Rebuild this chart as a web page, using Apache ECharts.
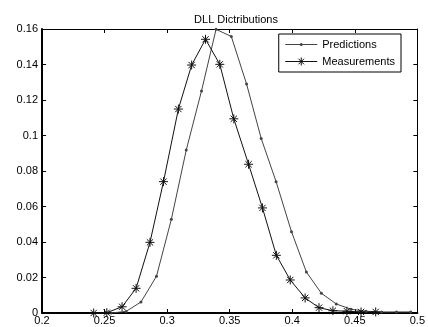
<!DOCTYPE html>
<html>
<head>
<meta charset="utf-8">
<script src="https://cdn.jsdelivr.net/npm/echarts@6/dist/echarts.min.js"></script>
<style>
  html, body { margin: 0; padding: 0; background: #fff; }
  #main { width: 428px; height: 327px; }
</style>
</head>
<body>
<div id="main"></div>
<script>
// values
var predX = [0.2552, 0.2672, 0.2791, 0.2915, 0.3034, 0.3153, 0.3275, 0.3391, 0.3513, 0.3635,
             0.3752, 0.3871, 0.3994, 0.4113, 0.4233, 0.4352, 0.4471, 0.4590, 0.4714, 0.4833, 0.4947];
var predY = [0.0000, 0.0009, 0.0062, 0.0207, 0.0528, 0.0918, 0.1251, 0.1598, 0.1558, 0.1290,
             0.0983, 0.0740, 0.0458, 0.0231, 0.0111, 0.0051, 0.0021, 0.0010, 0.0006, 0.0006, 0.0006];
var measX = [0.2413, 0.2518, 0.2640, 0.2752, 0.2863, 0.2971, 0.3090, 0.3196, 0.3307, 0.3421,
             0.3533, 0.3651, 0.3762, 0.3873, 0.3984, 0.4103, 0.4214, 0.4325, 0.4437, 0.4550, 0.4667];
var measY = [0.0000, 0.0002, 0.0035, 0.0139, 0.0398, 0.0740, 0.1149, 0.1397, 0.1542, 0.1401,
             0.1094, 0.0838, 0.0592, 0.0325, 0.0186, 0.0085, 0.0030, 0.0013, 0.0010, 0.0006, 0.0006];

function pairs(xs, ys) {
    var out = [];
    for (var i = 0; i < xs.length; i++) out.push([xs[i], ys[i]]);
    return out;
}

var font = 'Liberation Sans, Arial, sans-serif';
var star = 'path://M0,-5L0,5M-5,0L5,0M-3.5,-3.5L3.5,3.5M-3.5,3.5L3.5,-3.5';
// legend icons: line with marker, drawn in a 32x8 box
var predIcon = 'path://M0,0L0,0ZM32,8L32,8ZM0,3.5h32v1h-32zM17.5,4A1.5,1.5,0,1,1,14.5,4A1.5,1.5,0,1,1,17.5,4Z';
var measIcon = 'path://M0,4L32,4M16,0L16,8M12,4L20,4M13.2,1.2L18.8,6.8M13.2,6.8L18.8,1.2';

var chart = echarts.init(document.getElementById('main'));
var option = {
    animation: false,
    backgroundColor: '#fff',
    title: {
        text: 'DLL Dictributions',
        left: 231,
        top: 9,
        textAlign: 'center',
        textStyle: { fontFamily: font, fontSize: 11, fontWeight: 'normal', color: '#000' }
    },
    legend: {
        right: 27,
        top: 34,
        orient: 'vertical',
        itemWidth: 32,
        itemHeight: 8,
        itemGap: 6,
        padding: [5, 6, 5, 6],
        borderColor: '#000',
        borderWidth: 1,
        backgroundColor: '#fff',
        textStyle: { fontFamily: font, fontSize: 11, color: '#000' },
        data: [
            { name: 'Predictions', icon: predIcon },
            { name: 'Measurements', icon: measIcon, itemStyle: { borderWidth: 1, borderColor: '#111' } }
        ]
    },
    grid: { left: 42, right: 8, top: 29, bottom: 14 },
    xAxis: [{
        type: 'value', min: 0.2, max: 0.5, interval: 0.05,
        axisLine: { onZero: false, lineStyle: { color: '#000', width: 2 } },
        axisTick: { inside: true, length: 4, lineStyle: { color: '#000' } },
        axisLabel: { fontFamily: font, fontSize: 11, color: '#000', margin: 2 },
        splitLine: { show: false }
    }, {
        type: 'value', position: 'top', min: 0.2, max: 0.5, interval: 0.05,
        axisLine: { onZero: false, lineStyle: { color: '#000', width: 1 } },
        axisTick: { inside: true, length: 4, lineStyle: { color: '#000' } },
        axisLabel: { show: false },
        splitLine: { show: false }
    }],
    yAxis: [{
        type: 'value', min: 0, max: 0.16, interval: 0.02,
        axisLine: { show: true, onZero: false, lineStyle: { color: '#000', width: 2 } },
        axisTick: { show: true, inside: true, length: 4, lineStyle: { color: '#000' } },
        axisLabel: { fontFamily: font, fontSize: 11, color: '#000', margin: 4 },
        splitLine: { show: false }
    }, {
        type: 'value', position: 'right', min: 0, max: 0.16, interval: 0.02,
        axisLine: { show: true, onZero: false, lineStyle: { color: '#000', width: 1 } },
        axisTick: { show: true, inside: true, length: 4, lineStyle: { color: '#000' } },
        axisLabel: { show: false },
        splitLine: { show: false }
    }],
    series: [
        {
            name: 'Predictions',
            type: 'line',
            data: pairs(predX, predY),
            symbol: 'circle',
            symbolSize: 3,
            showAllSymbol: true,
            lineStyle: { color: '#444', width: 1 },
            itemStyle: { color: '#444' }
        },
        {
            name: 'Measurements',
            type: 'line',
            data: pairs(measX, measY),
            symbol: star,
            symbolSize: 9,
            showAllSymbol: true,
            lineStyle: { color: '#111', width: 1 },
            itemStyle: { color: '#111', borderColor: '#111', borderWidth: 1 }
        }
    ]
};
chart.setOption(option);
</script>
</body>
</html>
